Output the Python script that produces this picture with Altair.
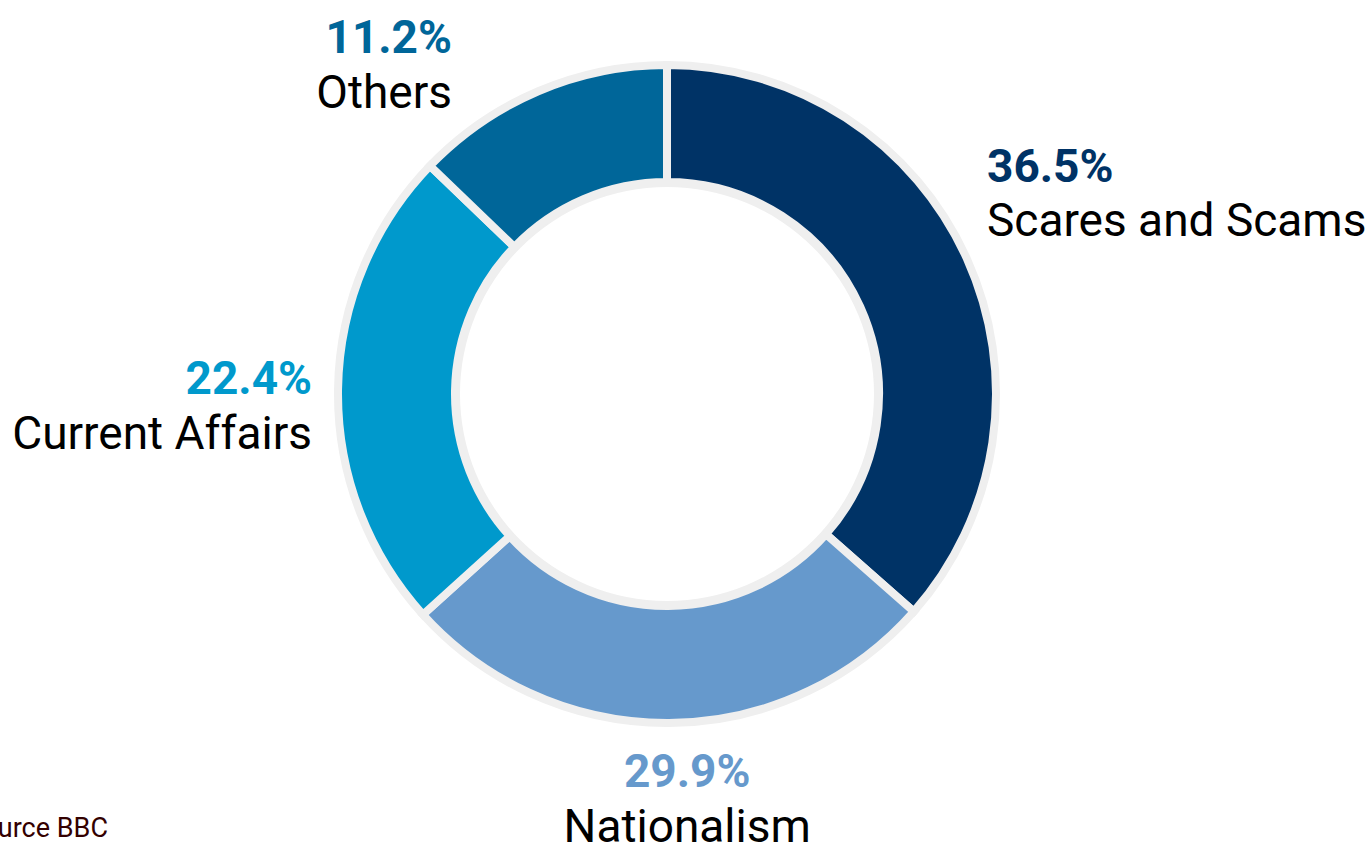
import altair as alt
import pandas as pd

# ---- data ----
categories = ["Scares and Scams", "Nationalism", "Current Affairs", "Others"]
# slice sizes as drawn in the picture (angles of the slice boundaries)
slice_shares = [36.5, 26.8, 23.9, 12.8]
# percentages as printed on the labels
label_shares = [36.5, 29.9, 22.4, 11.2]
slice_order = [1, 2, 3, 4]
colors = ["#003366", "#6699cc", "#0099cc", "#006699"]
source_note = ["Source BBC"]

df = pd.DataFrame({
    "category": categories,
    "share": slice_shares,
    "label_share": label_shares,
    "order": slice_order,
})

CX, CY = 667, 394
FONT = "Roboto"
RING_GRAY = "#efefef"
theta_scale = alt.Scale(domain=[0, 100], range=[0, 6.283185307179586])
color_scale = alt.Scale(domain=categories, range=colors)

base = alt.Chart(df).transform_window(
    end="sum(share)", sort=[alt.SortField("order")], frame=[None, 0]
).transform_calculate(
    start="datum.end - datum.share",
    mid="datum.end - datum.share / 2",
    pct="format(datum.label_share, '.1f') + '%'",
)

ring = alt.Chart(pd.DataFrame({"k": [0]})).mark_arc(
    radius=332, radius2=207, color=RING_GRAY, theta=0, theta2=6.283185307179586
).encode(x=alt.value(CX), y=alt.value(CY))

slices = base.mark_arc(radius=329, radius2=212, stroke=RING_GRAY, strokeWidth=8).encode(
    x=alt.value(CX),
    y=alt.value(CY),
    theta=alt.Theta("start:Q", scale=theta_scale),
    theta2="end:Q",
    color=alt.Color("category:N", scale=color_scale, legend=None),
)


def label(cat, align, dx, dy_pct, dy_name):
    b = base.transform_filter(alt.datum.category == cat)
    pct = b.mark_text(
        radius=350, align=align, baseline="alphabetic", dx=dx, dy=dy_pct,
        font=FONT, fontSize=46, fontWeight="bold",
    ).encode(
        x=alt.value(CX), y=alt.value(CY),
        theta=alt.Theta("mid:Q", scale=theta_scale),
        text="pct:N",
        color=alt.Color("category:N", scale=color_scale, legend=None),
    )
    name = b.mark_text(
        radius=350, align=align, baseline="alphabetic", dx=dx, dy=dy_name,
        font=FONT, fontSize=46, color="#000000",
    ).encode(
        x=alt.value(CX), y=alt.value(CY),
        theta=alt.Theta("mid:Q", scale=theta_scale),
        text="category:N",
    )
    return [pct, name]


labels = []
labels += label("Scares and Scams", "left", 1, -68, -14)
labels += label("Nationalism", "center", 18, 43, 98)
labels += label("Current Affairs", "right", -5, 5, 60)
labels += label("Others", "right", -78, -19, 36)

source = alt.Chart(pd.DataFrame({"t": source_note})).mark_text(
    align="right", baseline="alphabetic", font=FONT, fontSize=27, color="#330000"
).encode(x=alt.value(108), y=alt.value(837), text="t:N")

chart = alt.layer(ring, slices, *labels, source).properties(
    width=1371, height=846, autosize="none", padding=0
).configure_view(strokeWidth=0)

chart.save("out.html", embed_options={"renderer": "svg", "actions": False})
